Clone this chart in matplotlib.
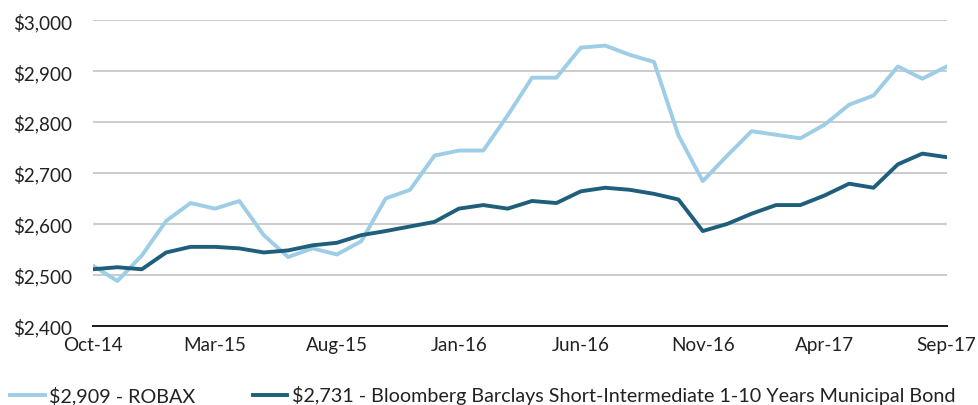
import matplotlib
matplotlib.use("Agg")
import matplotlib.pyplot as plt
from matplotlib.ticker import FuncFormatter

# dados mensais Oct-14 .. Sep-17
meses = ["Oct-14", "Nov-14", "Dec-14", "Jan-15", "Feb-15", "Mar-15", "Apr-15", "May-15",
         "Jun-15", "Jul-15", "Aug-15", "Sep-15", "Oct-15", "Nov-15", "Dec-15", "Jan-16",
         "Feb-16", "Mar-16", "Apr-16", "May-16", "Jun-16", "Jul-16", "Aug-16", "Sep-16",
         "Oct-16", "Nov-16", "Dec-16", "Jan-17", "Feb-17", "Mar-17", "Apr-17", "May-17",
         "Jun-17", "Jul-17", "Aug-17", "Sep-17"]

robax = [2518, 2488, 2538, 2606, 2641, 2630, 2645, 2578, 2535, 2552, 2540, 2566,
         2650, 2667, 2734, 2744, 2744, 2813, 2887, 2887, 2946, 2950, 2932, 2918,
         2774, 2684, 2734, 2782, 2775, 2768, 2795, 2834, 2852, 2909, 2885, 2909]

bloomberg = [2511, 2515, 2511, 2544, 2555, 2555, 2552, 2544, 2548, 2558, 2563, 2578,
             2586, 2595, 2604, 2630, 2637, 2630, 2645, 2641, 2664, 2671, 2667, 2659,
             2648, 2586, 2600, 2620, 2637, 2637, 2656, 2679, 2671, 2717, 2738, 2731]

nome_robax = "$2,909 - ROBAX"
nome_bloomberg = "$2,731 - Bloomberg Barclays Short-Intermediate 1-10 Years Municipal Bond"

plt.rcParams["font.family"] = ["Lato", "DejaVu Sans"]

fig = plt.figure(figsize=(9.79, 4.06), dpi=100)
ax = fig.add_axes([0.095, 0.195, 0.872, 0.753])

x = list(range(len(meses)))
ax.plot(x, robax, color="#9ecde6", linewidth=2.8, label=nome_robax)
ax.plot(x, bloomberg, color="#1f5f7c", linewidth=2.8, label=nome_bloomberg)

ax.set_xlim(0, len(meses) - 1)
ax.set_ylim(2400, 3000)
ax.set_yticks(range(2400, 3001, 100))
ax.yaxis.set_major_formatter(FuncFormatter(lambda v, p: "${:,.0f}".format(v)))
ax.set_xticks(x[::5])
ax.set_xticklabels(meses[::5])

ax.grid(axis="y", color="#c8c8c8", linewidth=1.3)
ax.set_axisbelow(True)
for lado in ["top", "right", "left"]:
    ax.spines[lado].set_visible(False)
ax.spines["bottom"].set_linewidth(1.4)
ax.spines["bottom"].set_color("#1a1a1a")
ax.tick_params(axis="both", length=0, labelsize=13.6, colors="#222222")
ax.tick_params(axis="y", pad=15)
ax.tick_params(axis="x", pad=7)

fig.legend(loc="center left", bbox_to_anchor=(10 / 979, 1 - 396 / 406), ncol=2,
           frameon=False, fontsize=14.2, handlelength=1.75, handletextpad=0.25,
           columnspacing=2.9, borderpad=0, borderaxespad=0, labelcolor="#222222")

plt.savefig("out.png", dpi=100)
